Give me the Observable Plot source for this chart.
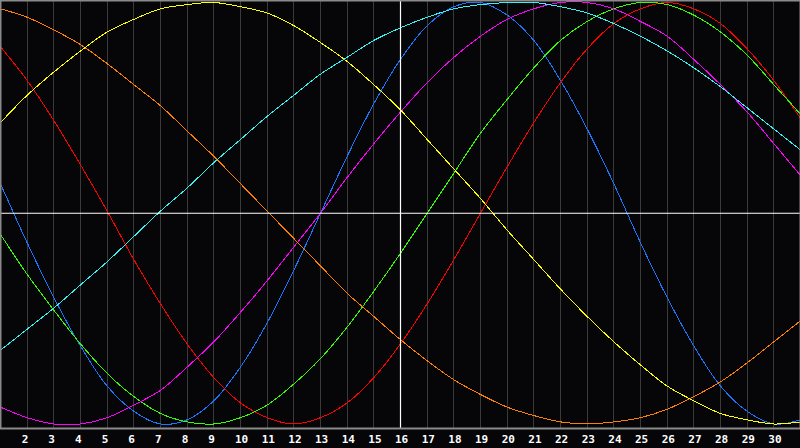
<!DOCTYPE html>
<html>
<head>
<meta charset="utf-8">
<script src="https://cdn.jsdelivr.net/npm/d3@7"></script>
<script src="https://cdn.jsdelivr.net/npm/@observablehq/plot@0.6"></script>
<style>
  html, body { margin: 0; padding: 0; background: #000; }
  #chart svg { display: block; }
</style>
</head>
<body>
<div id="chart"></div>
<script>
const days = d3.range(1, 32);
const tickDays = d3.range(2, 31);
const markedDay = 16;

const blue    = [14,-14,-40,-63,-82,-94,-100,-98,-89,-73,-52,-27,0,27,52,73,89,98,100,94,82,63,40,14,-14,-40,-63,-82,-94,-100,-98];
const red     = [79,63,44,23,1,-22,-43,-62,-78,-90,-97,-100,-97,-90,-78,-62,-43,-22,0,22,43,62,78,90,97,100,97,90,78,63,45];
const green   = [-10,-29,-46,-62,-76,-87,-95,-99,-100,-97,-91,-81,-69,-54,-37,-19,0,19,38,54,69,82,91,97,100,99,94,86,75,61,47];
const magenta = [-92,-97,-100,-100,-97,-91,-84,-73,-61,-47,-32,-16,0,17,33,48,62,74,84,92,97,100,100,97,91,84,73,61,48,33,18];
const cyan    = [-65,-55,-45,-34,-23,-11,1,12,24,35,46,56,66,74,82,88,93,97,99,100,100,98,95,90,84,77,69,60,50,40,30];
const yellow  = [43,56,67,77,86,92,97,99,100,98,95,89,81,72,61,49,35,21,7,-8,-22,-36,-49,-61,-72,-82,-89,-95,-98,-100,-99];
const orange  = [97,93,87,80,71,61,51,39,27,14,1,-12,-25,-38,-49,-60,-70,-79,-86,-92,-96,-99,-100,-99,-97,-93,-87,-80,-71,-61,-51];

const seriesList = [
  {name: "blue", values: blue, color: "#1a75ff"},
  {name: "red", values: red, color: "#ff0000"},
  {name: "green", values: green, color: "#33ff00"},
  {name: "magenta", values: magenta, color: "#ff00ff"},
  {name: "orange", values: orange, color: "#ff7f00"},
  {name: "yellow", values: yellow, color: "#ffff00"},
  {name: "cyan", values: cyan, color: "#33f3f3"}
];

const lineMarks = seriesList.map(s =>
  Plot.line(days.map((d, i) => ({day: d, v: s.values[i]})), {
    x: "day", y: "v", stroke: s.color, strokeWidth: 1,
    curve: "catmull-rom", shapeRendering: "crispEdges"
  })
);

const chart = Plot.plot({
  width: 800,
  height: 448,
  marginTop: 0,
  marginLeft: 0,
  marginRight: 0,
  marginBottom: 20,
  style: {background: "#060609", overflow: "visible"},
  x: {domain: [1, 31]},
  y: {domain: [-102.14, 100.95], axis: null},
  marks: [
    Plot.ruleX(tickDays, {stroke: "#3a3a3a", strokeWidth: 1, shapeRendering: "crispEdges"}),
    ...lineMarks,
    Plot.ruleX([markedDay], {stroke: "#ffffff", strokeWidth: 1.2}),
    Plot.ruleY([0], {stroke: "#ffffff", strokeWidth: 1.2}),
    Plot.frame({stroke: "#8a8a8a", strokeWidth: 2}),
    Plot.axisX({
      ticks: tickDays, tickSize: 0, tickPadding: 7,
      tickFormat: d => String(d),
      textAnchor: "start", dx: -5.5,
      fill: "#ffffff", fontWeight: "bold", fontSize: 11,
      fontFamily: "DejaVu Sans Mono", label: null
    })
  ]
});
document.getElementById("chart").appendChild(chart);
</script>
</body>
</html>
